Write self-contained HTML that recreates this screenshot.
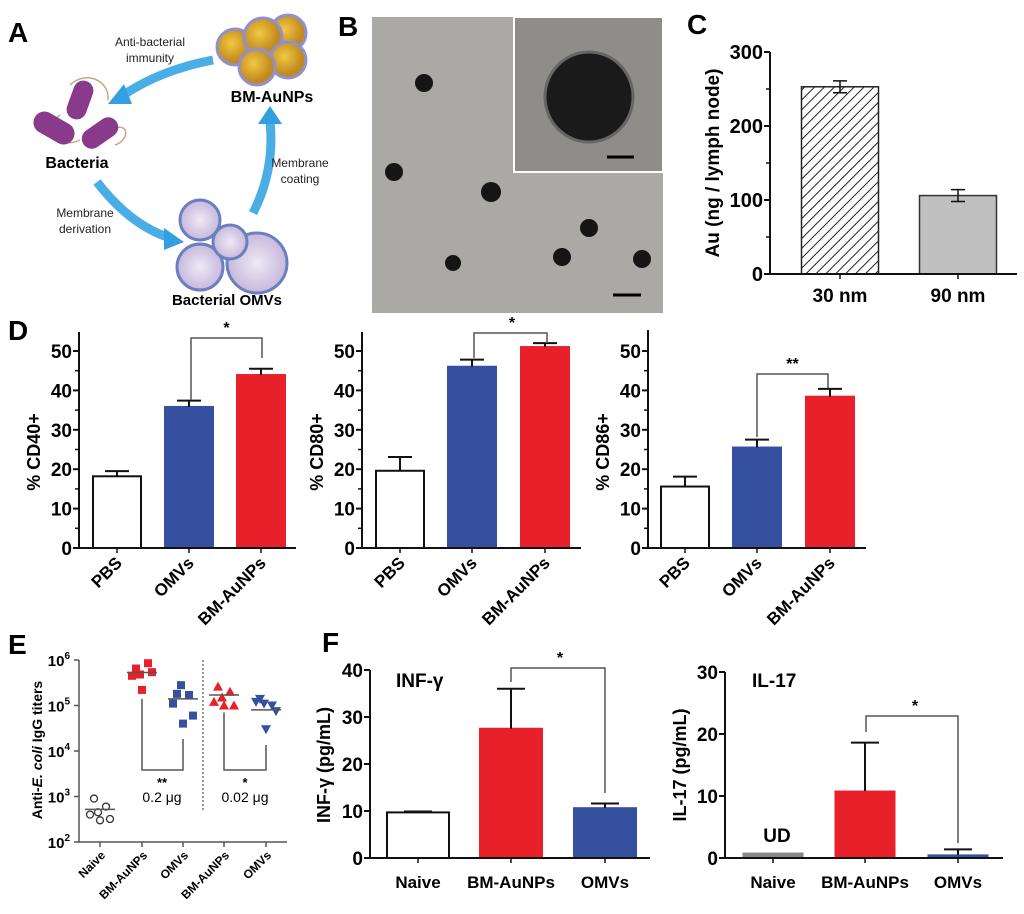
<!DOCTYPE html>
<html><head><meta charset="utf-8"><style>
body{margin:0;background:#fff;}
svg{display:block;font-family:"Liberation Sans",sans-serif;font-weight:bold;}
</style></head><body>
<svg id="fig" width="1024" height="914" viewBox="0 0 1024 914" xmlns="http://www.w3.org/2000/svg">
<defs>
<pattern id="hatch" width="7" height="7" patternUnits="userSpaceOnUse" patternTransform="rotate(45)"><rect width="7" height="7" fill="#fff"/><line x1="0" y1="0" x2="0" y2="7" stroke="#222" stroke-width="2"/></pattern>
<radialGradient id="gold" cx="40%" cy="40%"><stop offset="0" stop-color="#f3c840"/><stop offset="1" stop-color="#c08a20"/></radialGradient>
<radialGradient id="omv" cx="50%" cy="50%"><stop offset="0" stop-color="#efe9f4"/><stop offset="1" stop-color="#c6b8dc"/></radialGradient>
</defs>
<!-- Panel A -->
<g>
<text x="8" y="42" font-size="28">A</text>
<g fill="none" stroke="#4aaee6" stroke-width="9">
<path d="M213 60 Q160 70 122 96"/><path d="M97 182 Q130 225 170 238"/><path d="M253 213 Q275 170 270 122"/>
</g>
<g fill="#32a0e0"><polygon points="108,104 124,84 132,104"/><polygon points="184,242 164,228 164,250"/><polygon points="270,106 258,124 282,124"/></g>
<g>
<path d="M70 85 C85 70 110 80 108 100 M60 115 C40 130 60 150 80 140 M110 130 C130 120 130 140 115 145" stroke="#c8a880" stroke-width="1.5" fill="none"/>
<rect x="60" y="90" width="40" height="20" rx="10" fill="#8a3a8a" transform="rotate(-70 80 100)"/>
<rect x="32" y="117" width="44" height="22" rx="11" fill="#8a3a8a" transform="rotate(30 54 128)"/>
<rect x="80" y="123" width="40" height="20" rx="10" fill="#8a3a8a" transform="rotate(-35 100 133)"/>
</g>
<text x="77" y="168" font-size="16" text-anchor="middle">Bacteria</text>
<g stroke="#9090d0" stroke-width="3">
<circle cx="235" cy="47" r="18" fill="url(#gold)"/>
<circle cx="288" cy="33" r="18" fill="url(#gold)"/>
<circle cx="263" cy="37" r="19" fill="url(#gold)"/>
<circle cx="288" cy="60" r="18" fill="url(#gold)"/>
<circle cx="257" cy="67" r="18" fill="url(#gold)"/>
</g>
<text x="272" y="102" font-size="16" text-anchor="middle">BM-AuNPs</text>
<g stroke="#6a7fc0" stroke-width="3">
<circle cx="200" cy="220" r="20" fill="url(#omv)"/>
<circle cx="257" cy="263" r="30" fill="url(#omv)"/>
<circle cx="200" cy="267" r="23" fill="url(#omv)"/>
<circle cx="230" cy="242" r="17" fill="url(#omv)"/>
</g>
<text x="227" y="305" font-size="15" text-anchor="middle">Bacterial OMVs</text>
<g font-size="12" font-weight="normal" text-anchor="middle" fill="#222">
<text x="150" y="46">Anti-bacterial</text><text x="150" y="62">immunity</text>
<text x="85" y="217">Membrane</text><text x="85" y="233">derivation</text>
<text x="300" y="167">Membrane</text><text x="300" y="183">coating</text>
</g>
</g>
<!-- Panel B -->
<g>
<text x="338" y="36" font-size="28">B</text>
<rect x="372" y="17" width="291" height="296" fill="#aaa9a6"/>
<rect x="514" y="17" width="149" height="155" fill="#8e8d8a" stroke="#fff" stroke-width="2"/>
<ellipse cx="589" cy="97" rx="44" ry="45" fill="#1a1a1a" stroke="#666" stroke-width="3"/>
<line x1="607" y1="157" x2="634" y2="157" stroke="#000" stroke-width="3"/>
<g fill="#151515"><circle cx="424" cy="83" r="9"/><circle cx="394" cy="172" r="9"/><circle cx="491" cy="192" r="10"/><circle cx="589" cy="228" r="9"/><circle cx="453" cy="263" r="8"/><circle cx="562" cy="257" r="9"/><circle cx="642" cy="259" r="9"/></g>
<line x1="613" y1="295" x2="641" y2="295" stroke="#000" stroke-width="3"/>
</g>
<text x="687" y="34" font-size="28">C</text>
<text x="8" y="340" font-size="28">D</text>
<text x="8" y="654" font-size="28">E</text>
<text x="322" y="652" font-size="28">F</text>
<g id="charts"></g>
</svg>
<script>
// Panel C
const cCats=["30 nm","90 nm"];const cVals=[253,106];const cErr=[8,8];const cTicks=[0,100,200,300];
// Panel D
const dCats=["PBS","OMVs","BM-AuNPs"];
const d40Vals=[18.2,35.8,43.9];const d40Err=[1.3,1.6,1.6];
const d80Vals=[19.6,46.0,51.0];const d80Err=[3.5,1.8,1.0];
const d86Vals=[15.6,25.5,38.4];const d86Err=[2.5,2.0,2.0];
const dTicks=[0,10,20,30,40,50];
// Panel F
const fCats=["Naive","BM-AuNPs","OMVs"];
const fIfnVals=[9.7,27.5,10.6];const fIfnErr=[0.2,8.5,1.0];const fIfnTicks=[0,10,20,30,40];
const fIl17Vals=[0.8,10.8,0.5];const fIl17Err=[0,7.8,0.9];const fIl17Ticks=[0,10,20,30];
// Panel E
const eCats=["Naive","BM-AuNPs","OMVs","BM-AuNPs","OMVs"];
const eNaive=[900,600,450,400,320,300];
const eBm02=[650000,850000,480000,450000,540000,220000];
const eOmv02=[180000,170000,280000,110000,60000,40000];
const eBm002=[260000,200000,150000,120000,100000,100000];
const eOmv002=[140000,100000,110000,120000,75000,30000];
const eMeans=[520,530000,140000,170000,80000];
const eTicks=[2,3,4,5,6];

const NS="http://www.w3.org/2000/svg";
const root=document.getElementById('charts');
function mk(tag,attrs,parent,txt){const e=document.createElementNS(NS,tag);for(const k in attrs)e.setAttribute(k,attrs[k]);if(txt!==undefined)e.textContent=txt;(parent||root).appendChild(e);return e;}

function barChart(o){
  const g=mk('g',{});
  
  
  const y=v=>o.y0-(v-o.min)/(o.max-o.min)*(o.y0-o.yTop);
  o.vals.forEach((v,i)=>{
    const cx=o.centers[i];
    const r=mk('rect',{x:cx-o.bw/2,y:y(v),width:o.bw,height:o.y0-y(v),fill:o.fills[i],stroke:o.strokes[i],'stroke-width':o.sw||2},g);
    
    
    if(o.err[i]>0){
      const t=y(v+o.err[i]);
      mk('path',{d:`M${cx} ${y(v)}V${t}M${cx-o.cap} ${t}H${cx+o.cap}`+(o.lowErr?`M${cx} ${y(v)}V${y(v-o.err[i])}M${cx-o.cap} ${y(v-o.err[i])}H${cx+o.cap}`:''),stroke:'#111','stroke-width':o.ew||2,fill:'none'},g);
    }
  });
  const ax=mk('path',{d:`M${o.ax} ${o.axTop}V${o.y0}M${o.ax-4} ${o.y0}H${o.axEnd}`,stroke:'#111','stroke-width':2,fill:'none'},g);
  
  
  o.ticks.forEach((t,i)=>{
    mk('line',{x1:o.ax-6,x2:o.ax,y1:y(t),y2:y(t),stroke:'#111','stroke-width':2},g);
    const tl=mk('text',{x:o.ax-7,y:y(t)+7,'font-size':o.tfs||19,'text-anchor':'end'},g,t);
    
    
    if(i<o.ticks.length-1&&o.minor){const m=(t+o.ticks[i+1])/2;mk('line',{x1:o.ax-4,x2:o.ax,y1:y(m),y2:y(m),stroke:'#111','stroke-width':1.5},g);}
  });
  o.cats.forEach((c,i)=>{
    const cx=o.centers[i];
    mk('line',{x1:cx,x2:cx,y1:o.y0,y2:o.y0+5,stroke:'#111','stroke-width':1.5},g);
    let t;
    if(o.rot){t=mk('text',{x:cx+6,y:o.y0+16,'font-size':o.xfs||17,'text-anchor':'end',transform:`rotate(-45 ${cx+6} ${o.y0+16})`},g,c);}
    else{t=mk('text',{x:cx,y:o.y0+o.xdy,'font-size':o.xfs||17,'text-anchor':'middle'},g,c);}
    
    
  });
  const yt=mk('text',{x:o.titleX,y:o.titleY,'font-size':o.titleFs||18,'text-anchor':'middle',transform:`rotate(-90 ${o.titleX} ${o.titleY})`},g,o.title);
  
  
  return {g,y};
}
function bracket(g,x1,x2,yb,l1,l2,star,sx){
  mk('path',{d:`M${x1} ${l1}V${yb}H${x2}V${l2}`,stroke:'#555','stroke-width':1.5,fill:'none'},g);
  const s=mk('text',{x:sx||(x1+x2)/2,y:yb-5,'font-size':16,'text-anchor':'middle'},g,star);
  
  
}
// C
barChart({name:'panel-c-au-chart',cats:cCats,vals:cVals,err:cErr,lowErr:true,ew:1.5,centers:[840,958],bw:77,fills:['url(#hatch)','#c0c0c0'],strokes:['#222','#333'],sw:1.5,cap:7,
 min:0,max:300,y0:274,yTop:52,ax:770,axTop:52,axEnd:1017,ticks:cTicks,minor:true,title:'Au (ng / lymph node)',titleX:719,titleY:163,titleFs:19,rot:false,xdy:28,xfs:19,tfs:20});
// D
const dFills=['#fff','#3650a0','#e8202a'],dStrokes=['#111','#3650a0','#e8202a'];
const D1=barChart({name:'panel-d-cd40-chart',cats:dCats,vals:d40Vals,err:d40Err,centers:[117,189,261],bw:48,fills:dFills,strokes:dStrokes,cap:12,
 min:0,max:50,y0:548,yTop:351,ax:79,axTop:332,axEnd:296,ticks:dTicks,minor:true,title:'% CD40+',titleX:40,titleY:452,rot:true});
bracket(D1.g,191,262,338,400,358,'*');
const D2=barChart({name:'panel-d-cd80-chart',cats:dCats,vals:d80Vals,err:d80Err,centers:[400,472,545],bw:48,fills:dFills,strokes:dStrokes,cap:12,
 min:0,max:50,y0:548,yTop:351,ax:362,axTop:332,axEnd:581,ticks:dTicks,minor:true,title:'% CD80+',titleX:323,titleY:452,rot:true});
bracket(D2.g,474,547,333,358,343,'*',512);
const D3=barChart({name:'panel-d-cd86-chart',cats:dCats,vals:d86Vals,err:d86Err,centers:[685,757,830],bw:48,fills:dFills,strokes:dStrokes,cap:12,
 min:0,max:50,y0:548,yTop:351,ax:648,axTop:330,axEnd:866,ticks:dTicks,minor:true,title:'% CD86+',titleX:609,titleY:452,rot:true});
bracket(D3.g,757,828,374,437,388,'**');
// F
const fFills=['#fff','#e8202a','#3650a0'],fStrokes=['#111','#e8202a','#3650a0'];
const F1=barChart({name:'panel-f-ifn-gamma-chart',cats:fCats,vals:fIfnVals,err:fIfnErr,centers:[418,511,605],bw:62,fills:fFills,strokes:fStrokes,cap:14,
 min:0,max:40,y0:858,yTop:670,ax:370,axTop:670,axEnd:650,ticks:fIfnTicks,minor:false,title:'INF-γ (pg/mL)',titleX:330,titleY:765,rot:false,xdy:30,xfs:17});
mk('text',{x:396,y:687,'font-size':19},F1.g,'INF-γ');
bracket(F1.g,511,605,668,682,793,'*',560);
const F2=barChart({name:'panel-f-il17-chart',cats:fCats,vals:fIl17Vals,err:fIl17Err,centers:[773,865,958],bw:60,fills:['#888','#e8202a','#3650a0'],strokes:['#888','#e8202a','#3650a0'],sw:1,cap:14,
 min:0,max:30,y0:858,yTop:672,ax:725,axTop:672,axEnd:1003,ticks:fIl17Ticks,minor:false,title:'IL-17 (pg/mL)',titleX:686,titleY:765,rot:false,xdy:30,xfs:17});
mk('text',{x:752,y:687,'font-size':19},F2.g,'IL-17');
mk('text',{x:777,y:842,'font-size':19,'text-anchor':'middle'},F2.g,'UD');
bracket(F2.g,866,958,716,732,843,'*',915);
// E
(function(){
  const g=mk('g',{});
  
  
  const y0=842,yTop=660;
  const y=v=>y0-(Math.log10(v)-2)/4*(y0-yTop);
  const cx=[100,142,183,224,266];
  mk('path',{d:`M79 ${yTop}V${y0}H287`,stroke:'#555','stroke-width':1.5,fill:'none'},g);
  eTicks.forEach(t=>{
    mk('line',{x1:74,x2:79,y1:y(Math.pow(10,t)),y2:y(Math.pow(10,t)),stroke:'#555','stroke-width':1.5},g);
    const tl=mk('text',{x:70,y:y(Math.pow(10,t))+6,'font-size':15,'text-anchor':'end'},g);
    
    
    tl.innerHTML='10<tspan font-size="10" dy="-7">'+t+'</tspan>';
  });
  cx.forEach(x=>mk('line',{x1:x,x2:x,y1:y0,y2:y0+5,stroke:'#555','stroke-width':1.5},g));
  eCats.forEach((c,i)=>{const t=mk('text',{x:cx[i]+6,y:y0+14,'font-size':12,'text-anchor':'end',transform:`rotate(-45 ${cx[i]+6} ${y0+14})`},g,c);
    
    });
  mk('line',{x1:203,x2:203,y1:660,y2:810,stroke:'#777','stroke-width':1.5,'stroke-dasharray':'2,2'},g);
  const jit=[-6,6,-2,-10,10,0];
  const groups=[[eNaive,'circle','#fff','#333'],[eBm02,'square','#e8202a','#e8202a'],[eOmv02,'square','#3650a0','#3650a0'],[eBm002,'tri','#e8202a','#e8202a'],[eOmv002,'tridown','#3650a0','#3650a0']];
  groups.forEach((gr,gi)=>{
    gr[0].forEach((v,k)=>{
      const px=cx[gi]+jit[k],py=y(v);let m;
      if(gr[1]==='circle')m=mk('circle',{cx:px,cy:py,r:3.5,fill:'#fff',stroke:'#333','stroke-width':1.3},g);
      else if(gr[1]==='square')m=mk('rect',{x:px-4,y:py-4,width:8,height:8,fill:gr[2]},g);
      else if(gr[1]==='tri')m=mk('polygon',{points:`${px},${py-5} ${px-5},${py+4} ${px+5},${py+4}`,fill:gr[2]},g);
      else m=mk('polygon',{points:`${px},${py+5} ${px-5},${py-4} ${px+5},${py-4}`,fill:gr[2]},g);
      
      
    });
    mk('line',{x1:cx[gi]-15,x2:cx[gi]+15,y1:y(eMeans[gi]),y2:y(eMeans[gi]),stroke:'#555','stroke-width':1.5},g);
  });
  mk('path',{d:`M142 ${y(140000)}V770H183V739`,stroke:'#555','stroke-width':1.5,fill:'none'},g);
  mk('path',{d:`M224 ${y(70000)}V770H266V745`,stroke:'#555','stroke-width':1.5,fill:'none'},g);
  mk('text',{x:162,y:787,'font-size':13,'text-anchor':'middle'},g,'**');
  mk('text',{x:245,y:787,'font-size':13,'text-anchor':'middle'},g,'*');
  mk('text',{x:162,y:802,'font-size':14,'font-weight':'normal','text-anchor':'middle'},g,'0.2 μg');
  mk('text',{x:245,y:802,'font-size':14,'font-weight':'normal','text-anchor':'middle'},g,'0.02 μg');
  const yt=mk('text',{x:42,y:750,'font-size':14,'text-anchor':'middle',transform:'rotate(-90 42 750)'},g);
  
  
  yt.innerHTML='Anti-<tspan font-style="italic">E. coli</tspan> IgG titers';
})();
</script>
</body></html>
